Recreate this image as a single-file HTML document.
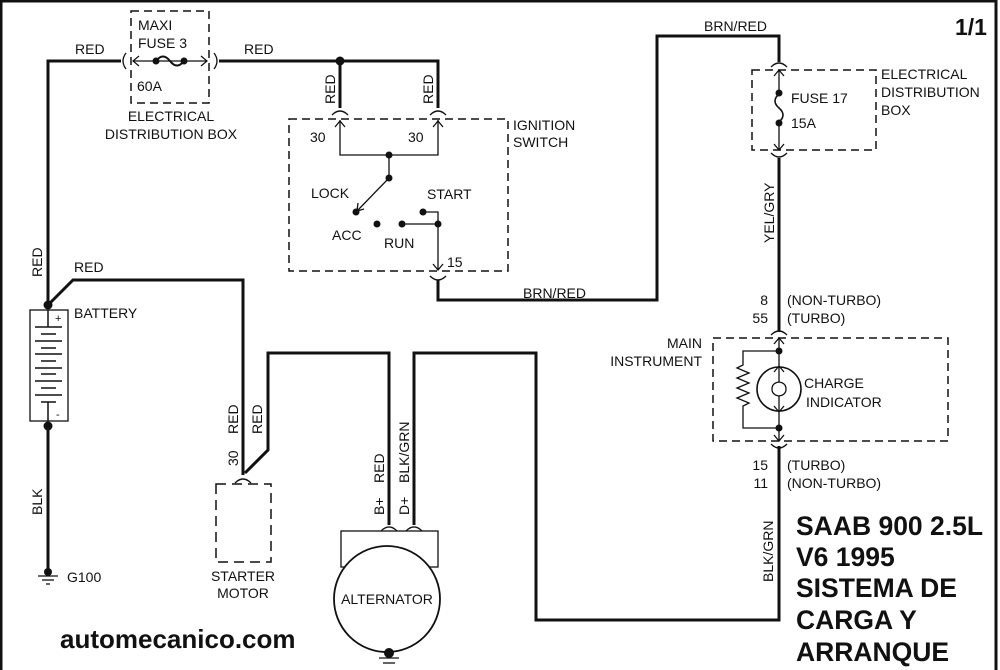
<!DOCTYPE html>
<html><head><meta charset="utf-8"><style>
html,body{margin:0;padding:0;background:#fff}
svg{display:block}
text{font-family:"Liberation Sans",Arial,sans-serif;font-size:14px;fill:#111}
.b{font-weight:bold}
</style></head><body>
<svg width="1000" height="670" viewBox="0 0 1000 670" xmlns="http://www.w3.org/2000/svg">
<rect x="0" y="0" width="1000" height="670" fill="#fff"/>
<path d="M1,670 V1 H996 V670" fill="none" stroke="#111" stroke-width="3"/>

<g fill="none" stroke="#111" stroke-width="3" stroke-linejoin="miter">
<path d="M48,305 V61 H121"/>
<path d="M219,61 H438 V108"/>
<path d="M340,61 V108"/>
<path d="M438,280 V300 H657 V36 H779 V62"/>
<path d="M779,158 V332"/>
<path d="M779,446 V620 H536 V353 H414 V525"/>
<path d="M389,525 V353 H268 V450 L245,473"/>
<path d="M48,305 L73,280 H243 V475"/>
<path d="M48,426 V570"/>
</g>

<g fill="none" stroke="#111" stroke-width="1.3">
<path d="M126,53 Q120,61 126,69"/><path d="M214,53 Q220,61 214,69"/>
<path d="M332,115 Q340,107 348,115"/><path d="M430,115 Q438,107 446,115"/>
<path d="M430,276 Q438,284 446,276"/>
<path d="M771,67 Q779,59 787,67"/><path d="M771,153 Q779,161 787,153"/>
<path d="M771,335 Q779,327 787,335"/><path d="M771,444 Q779,452 787,444"/>
<path d="M235,483 Q243,475 251,483"/>
<path d="M381,531 Q389,523 397,531"/><path d="M406,531 Q414,523 422,531"/>
</g>

<rect x="131" y="11" width="78" height="92" fill="none" stroke="#111" stroke-width="1.5" stroke-dasharray="8,5"/>
<g stroke="#111" stroke-width="1.2" fill="none">
<path d="M133,61 H207"/><path d="M139,56 L133,61 L139,66"/><path d="M201,56 L207,61 L201,66"/>
</g>
<path d="M156,61 Q163,52 170,61 T184,61" fill="none" stroke="#111" stroke-width="2"/>
<circle cx="156" cy="61" r="3.5" fill="#111"/><circle cx="184" cy="61" r="3.5" fill="#111"/>
<text x="138" y="30">MAXI</text><text x="138" y="48">FUSE 3</text><text x="137" y="91">60A</text>
<text x="171" y="121" text-anchor="middle">ELECTRICAL</text>
<text x="171" y="139" text-anchor="middle">DISTRIBUTION BOX</text>
<circle cx="340" cy="61" r="4.5" fill="#111"/>
<text transform="translate(335,104) rotate(-90)">RED</text>
<text transform="translate(433,104) rotate(-90)">RED</text>
<text x="75" y="54">RED</text><text x="244" y="54">RED</text>

<rect x="289" y="119" width="219" height="152" fill="none" stroke="#111" stroke-width="1.5" stroke-dasharray="8,5"/>
<g stroke="#111" stroke-width="1.3" fill="none">
<path d="M340,120 V155 H438 V120"/><path d="M335,127 L340,121 L345,127"/><path d="M433,127 L438,121 L443,127"/>
<path d="M389,155 V178 L358,210"/><path d="M358,203 L357,211 L364,209"/>
<path d="M402,224 H438"/><path d="M423,212 H438 V270"/><path d="M433,264 L438,270 L443,264"/>
</g>
<g fill="#111"><circle cx="389" cy="155" r="3.5"/><circle cx="389" cy="178" r="3.5"/><circle cx="356" cy="212" r="3.5"/><circle cx="377" cy="224" r="3.5"/><circle cx="402" cy="224" r="3.5"/><circle cx="438" cy="224" r="3.5"/><circle cx="423" cy="212" r="3.5"/></g>
<text x="310" y="142">30</text><text x="408" y="142">30</text>
<text x="311" y="198">LOCK</text><text x="427" y="199">START</text>
<text x="332" y="240">ACC</text><text x="384" y="248">RUN</text><text x="447" y="267">15</text>
<text x="513" y="130">IGNITION</text><text x="513" y="147">SWITCH</text>
<text x="523" y="298">BRN/RED</text><text x="704" y="31">BRN/RED</text>

<rect x="752" y="70" width="124" height="80" fill="none" stroke="#111" stroke-width="1.5" stroke-dasharray="8,5"/>
<g stroke="#111" stroke-width="1.3" fill="none">
<path d="M779,70 V93"/><path d="M779,123 V150"/><path d="M774,76 L779,70 L784,76"/><path d="M774,144 L779,150 L784,144"/>
</g>
<path d="M779,94 Q771,101 779,108 Q787,115 779,122" fill="none" stroke="#111" stroke-width="1.6"/>
<circle cx="779" cy="93" r="3.5" fill="#111"/><circle cx="779" cy="123" r="3.5" fill="#111"/>
<text x="791" y="103">FUSE 17</text><text x="791" y="128">15A</text>
<text x="881" y="79">ELECTRICAL</text><text x="881" y="97">DISTRIBUTION</text><text x="881" y="115">BOX</text>
<text transform="translate(774,243) rotate(-90)">YEL/GRY</text>
<text x="768" y="305" text-anchor="end">8</text><text x="768" y="323" text-anchor="end">55</text>
<text x="787" y="305">(NON-TURBO)</text><text x="787" y="323">(TURBO)</text>

<rect x="713" y="338" width="235" height="103" fill="none" stroke="#111" stroke-width="1.5" stroke-dasharray="8,5"/>
<g stroke="#111" stroke-width="1.3" fill="none">
<path d="M779,338 V367"/><path d="M779,411 V441"/><path d="M774,344 L779,338 L784,344"/><path d="M774,435 L779,441 L784,435"/>
<path d="M774,372 L779,366 L784,372"/><path d="M774,406 L779,412 L784,406"/>
<path d="M779,351 H743 V365 L737,368 L749,373 L737,378 L749,383 L737,388 L749,393 L737,398 L749,403 L743,406 V428 H779"/>
<circle cx="779" cy="389" r="22" stroke-width="1.6"/>
<path d="M779,367 V382 Q772,383 772,389 Q772,395 779,396 V411"/>
<path d="M779,382 Q786,383 786,389 Q786,395 779,396"/>
</g>
<circle cx="779" cy="351" r="3.5" fill="#111"/><circle cx="779" cy="428" r="3.5" fill="#111"/>
<text x="702" y="348" text-anchor="end">MAIN</text><text x="702" y="366" text-anchor="end">INSTRUMENT</text>
<text x="804" y="388">CHARGE</text><text x="806" y="407">INDICATOR</text>
<text x="768" y="470" text-anchor="end">15</text><text x="768" y="488" text-anchor="end">11</text>
<text x="787" y="470">(TURBO)</text><text x="787" y="488">(NON-TURBO)</text>
<text transform="translate(773,582) rotate(-90)">BLK/GRN</text>

<circle cx="48" cy="305" r="4.5" fill="#111"/><circle cx="48" cy="426" r="4.5" fill="#111"/>
<rect x="30" y="310" width="38" height="111" fill="none" stroke="#111" stroke-width="1.3"/>
<g stroke="#111" stroke-width="1.5">
<path d="M48,310 V327"/><path d="M48,402 V421"/>
<path d="M35,327 H62"/><path d="M41,334 H56"/><path d="M35,341 H62"/><path d="M41,348 H56"/><path d="M35,354 H62"/><path d="M41,361 H56"/><path d="M35,368 H62"/><path d="M41,374 H56"/><path d="M35,381 H62"/><path d="M41,388 H56"/><path d="M35,395 H62"/><path d="M41,402 H56"/>
</g>
<text x="55" y="322" style="font-size:11px">+</text><text x="56" y="418" style="font-size:11px">-</text>
<text x="74" y="318">BATTERY</text>
<text transform="translate(42,277) rotate(-90)">RED</text>
<text x="74" y="272">RED</text>
<text transform="translate(42,515) rotate(-90)">BLK</text>
<circle cx="48" cy="572" r="4" fill="#111"/>
<g stroke="#111" stroke-width="1.3"><path d="M38,576 H58"/><path d="M42,580 H54"/><path d="M46,584 H50"/></g>
<text x="67" y="582">G100</text>

<rect x="216" y="484" width="55" height="78" fill="none" stroke="#111" stroke-width="1.5" stroke-dasharray="10,6"/>
<text transform="translate(238,466) rotate(-90)">30</text>
<text transform="translate(238,434) rotate(-90)">RED</text>
<text transform="translate(262,434) rotate(-90)">RED</text>
<text x="243" y="581" text-anchor="middle">STARTER</text><text x="243" y="598" text-anchor="middle">MOTOR</text>

<rect x="341" y="531" width="97" height="36" fill="none" stroke="#111" stroke-width="1.3"/>
<circle cx="387" cy="599" r="53" fill="#fff" stroke="#111" stroke-width="1.8"/>
<text x="387" y="604" text-anchor="middle">ALTERNATOR</text>
<circle cx="389" cy="653" r="5" fill="#111"/>
<g stroke="#111" stroke-width="1.3"><path d="M379,658 H399"/><path d="M383,663 H395"/></g>
<text transform="translate(384,515) rotate(-90)">B+</text>
<text transform="translate(384,483) rotate(-90)">RED</text>
<text transform="translate(409,515) rotate(-90)">D+</text>
<text transform="translate(409,483) rotate(-90)">BLK/GRN</text>

<text x="60" y="648" class="b" style="font-size:26px">automecanico.com</text>
<text x="955" y="35" class="b" style="font-size:23px">1/1</text>
<text x="796" y="535" class="b" style="font-size:26.5px">SAAB 900 2.5L</text>
<text x="796" y="566" class="b" style="font-size:26.5px">V6 1995</text>
<text x="796" y="597" class="b" style="font-size:26.5px">SISTEMA DE</text>
<text x="796" y="629" class="b" style="font-size:26.5px">CARGA Y</text>
<text x="796" y="661" class="b" style="font-size:26.5px">ARRANQUE</text>
</svg>
</body></html>
